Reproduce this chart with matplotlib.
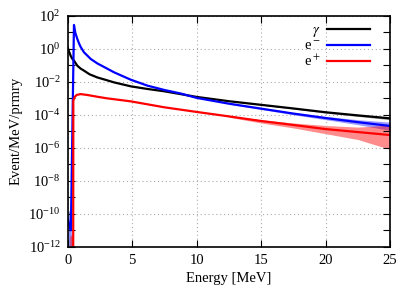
#################
# Bibliothèques #
#################
import numpy as np
import matplotlib.pyplot as plt
from matplotlib.ticker import NullFormatter
from matplotlib.lines import Line2D

plt.rcParams['font.family'] = ['Liberation Serif', 'DejaVu Serif']
plt.rcParams['mathtext.fontset'] = 'stix'

###########
# DONNEES #
###########
# valeurs, en log10(Event/MeV/prmry)
E_gam = [0, 0.1, 0.23, 0.35, 0.49, 0.75, 1.0, 1.27, 1.7, 2.3, 3, 3.6, 4.9, 6.2, 7.5, 10,
         12.5, 15, 17.5, 20, 22.5, 25]
log_gam = [0.08, -0.15, -0.42, -0.6, -0.72, -1.03, -1.2, -1.33, -1.55, -1.74, -1.9, -2.04,
           -2.28, -2.44, -2.58, -2.92, -3.18, -3.4, -3.62, -3.85, -4.04, -4.22]

E_em = [0, 0.1, 0.25, 0.49, 0.6, 0.75, 0.88, 1.0, 1.27, 1.79, 2.3, 3, 3.6, 4.9, 6.2, 7.5,
        8.8, 10, 12.5, 15, 17.5, 20, 22.5, 25]
log_em = [-10.3, -10.6, -11.0, 1.44, 0.95, 0.59, 0.33, 0.12, -0.22, -0.62, -0.89, -1.18,
          -1.43, -1.88, -2.24, -2.5, -2.72, -2.98, -3.33, -3.63, -3.93, -4.2, -4.45, -4.68]

E_ep = [0.43, 0.44, 0.55, 0.7, 1.0, 1.5, 2.3, 3, 4, 4.9, 7.5, 10, 12.5, 15, 17.5, 20, 22.5, 25]
log_ep = [-13, -3.15, -2.92, -2.8, -2.75, -2.8, -2.91, -3.0, -3.1, -3.19, -3.55, -3.83, -4.1,
          -4.38, -4.62, -4.87, -5.05, -5.23]

# bandes d'incertitude (log10)
band_E = [12.5, 15, 17.5, 20, 22.5, 25]
gam_lo = [-3.19, -3.42, -3.65, -3.9, -4.1, -4.3]
gam_hi = [-3.17, -3.38, -3.59, -3.8, -3.98, -4.15]
em_lo = [-3.36, -3.68, -4.0, -4.3, -4.6, -4.95]
em_hi = [-3.3, -3.58, -3.86, -4.1, -4.3, -4.45]
ep_lo = [-4.15, -4.5, -4.8, -5.15, -5.5, -6.1]
ep_hi = [-4.05, -4.3, -4.5, -4.65, -4.75, -4.63]

low_E = [0, 0.1, 0.2, 0.25, 0.3]
em_low_lo = [-13, -13, -13, -13, -13]
em_low_hi = [-9.9, -9.8, -10.0, -10.6, -11.5]
ep_low_E = [0.15, 0.25, 0.35, 0.4]
ep_low_lo = [-13, -13, -13, -13]
ep_low_hi = [-11.4, -11.3, -11.3, -11.5]

labels = [r'$\gamma$', 'e$^-$', 'e$^+$']
colors = ['black', 'blue', 'red']

##########
# TRACE  #
##########
fig = plt.figure(figsize=(4.15, 2.91), dpi=100)
ax = fig.add_axes([0.163, 0.152, 0.777, 0.794])

p = lambda v: 10.0**np.array(v)

ax.fill_between(band_E, p(gam_lo), p(gam_hi), color='black', alpha=0.4, lw=0)
ax.fill_between(band_E, p(em_lo), p(em_hi), color='blue', alpha=0.4, lw=0)
ax.fill_between(band_E, p(ep_lo), p(ep_hi), color='red', alpha=0.45, lw=0)
ax.fill_between(low_E, p(em_low_lo), p(em_low_hi), color='blue', alpha=0.45, lw=0)
ax.fill_between(ep_low_E, p(ep_low_lo), p(ep_low_hi), color='red', alpha=0.45, lw=0)

ax.plot(E_gam, p(log_gam), color='black', lw=1.6)
ax.plot(E_em, p(log_em), color='blue', lw=1.6)
ax.plot(E_ep, p(log_ep), color='red', lw=1.6)

ax.set_yscale('log')
ax.set_xlim(0, 25)
ax.set_ylim(1e-12, 1e2)
ax.set_xticks([0, 5, 10, 15, 20, 25])
ax.set_yticks(10.0**np.arange(-12, 3, 2))
ax.set_yticks(10.0**np.arange(-11, 2, 2), minor=True)
ax.yaxis.set_minor_formatter(NullFormatter())
ax.tick_params(which='both', direction='in', top=True, right=True, length=5, width=0.8,
               labelsize=10.5, pad=5)
ax.grid(True, which='major', ls=(0, (1, 2.5)), color='#aaaaaa', lw=0.8)
for s in ax.spines.values():
    s.set_linewidth(1.2)

ax.set_xlabel("Energy [MeV]", fontsize=10.5, labelpad=4)
ax.set_ylabel("Event/MeV/prmry", fontsize=10.5, labelpad=4)

handles = [Line2D([], [], color=c, lw=1.6) for c in colors]
ax.legend(handles, labels, loc='upper right', bbox_to_anchor=(0.955, 0.99), frameon=False,
          markerfirst=False, handlelength=2.9, handletextpad=0.5, labelspacing=0.05,
          borderaxespad=0, fontsize=10.5)

fig.savefig('out.png', dpi=100)
